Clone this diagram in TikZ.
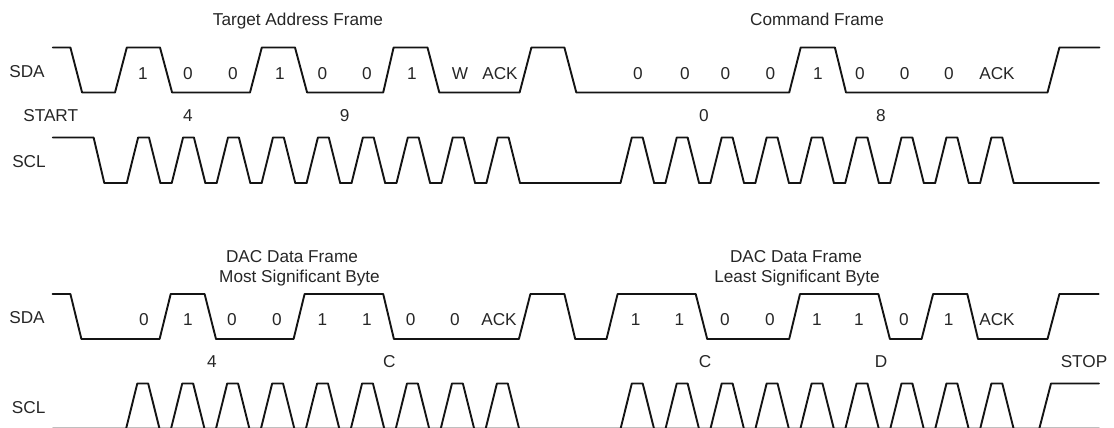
\documentclass[tikz,border=0pt]{standalone}
\usepackage{fontspec}
\setmainfont{Liberation Sans}
\newcommand{\pulsetrain}[3]{% x0, y high, y low
  \foreach \k in {0,...,8}{
    \pgfmathsetmacro{\xa}{#1+44.95*\k}
    \draw[wave] (\xa,#3) -- (\xa+11.3,#2) -- (\xa+22.2,#2) -- (\xa+33.6,#3);
    \ifnum\k<8 \draw[wave] (\xa+33.6,#3) -- (\xa+44.95,#3);\fi
  }}
\tikzset{
  wave/.style={line width=1.9pt,line join=round,line cap=round,black!92},
  txt/.style={inner sep=0pt,anchor=base,font=\fontsize{17.2}{18}\selectfont,text=black!85}
}
\begin{document}
\begin{tikzpicture}[x=1pt,y=-1pt]
\useasboundingbox (0,0) rectangle (1114,428);
\clip (0,0) rectangle (1114,428);
% ---- first row SDA
\draw[wave] (52.9,47.5) -- (70.4,47.5) -- (82.1,92.5) -- (115,92.5) -- (126.8,47.5) -- (160,47.5) -- (172.1,92.5)
  -- (250,92.5) -- (261.8,47.5) -- (295,47.5) -- (307.1,92.5) -- (383.2,92.5) -- (393.6,47.5) -- (427.5,47.5)
  -- (439.3,92.5) -- (519.6,92.5) -- (531.4,47.5) -- (564.4,47.5) -- (576.3,92.5) -- (789.2,92.5) -- (800.7,47.5)
  -- (834.9,47.5) -- (846,92.5) -- (1047.5,92.5) -- (1059.4,47.5) -- (1099.3,47.5);
% ---- first row SCL
\draw[wave] (52.9,137.5) -- (93.6,137.5) -- (104.3,183) -- (126.8,183);
\pulsetrain{126.8}{137.5}{183}
\draw[wave] (520,183) -- (620.5,183);
\pulsetrain{620.5}{137.5}{183}
\draw[wave] (1014,183) -- (1099,183);
% ---- second row SDA
\draw[wave] (52.5,294) -- (70.4,294) -- (81.4,339) -- (159.6,339) -- (170.7,294) -- (204.6,294) -- (216,339)
  -- (293.6,339) -- (304.6,294) -- (383.2,294) -- (393.9,339) -- (518.9,339) -- (530.4,294) -- (564.4,294)
  -- (575.2,339) -- (606.5,339) -- (617.6,294) -- (695.7,294) -- (707.2,339) -- (789.2,339) -- (800,294)
  -- (878.4,294) -- (889.9,339) -- (921.6,339) -- (933.1,294) -- (967.3,294) -- (978,339) -- (1047.5,339)
  -- (1059.4,294) -- (1098.6,294);
% ---- second row SCL
\draw[wave,black!25,line width=1pt] (52.9,427.5) -- (1099,427.5);
\pulsetrain{126}{383.5}{429}
\draw[wave] (1014,429) -- (1039.2,429) -- (1051,383.5) -- (1099,383.5);
\pulsetrain{620.5}{383.5}{429}
% ---- labels
\node[txt] (t1) at (298,26) {Target Address Frame};
\node[txt] (t2) at (817,26) {Command Frame};
\node[txt] (t3) at (292,262) {DAC Data Frame};
\node[txt] (t4) at (299.5,282) {Most Significant Byte};
\node[txt] (t5) at (796,262) {DAC Data Frame};
\node[txt] (t6) at (797,282) {Least Significant Byte};
\node[txt] (sda1) at (27,77.5) {SDA};
\node[txt] (scl1) at (29,167.5) {SCL};
\node[txt] (sda2) at (27,323.5) {SDA};
\node[txt] (scl2) at (28.6,413.5) {SCL};
\node[txt] (start) at (50.7,121.5) {START};
\node[txt] (stop) at (1084,367.5) {STOP};
% bits row 1
\foreach \x/\s [count=\i] in {143/1,188/0,233/0,280/1,322.5/0,367/0,412/1,460/W,500/ACK,638/0,685/0,725.5/0,770.5/0,818/1,860/0,904.7/0,949/0,997/ACK}
  \node[txt] (ba\i) at (\x,79) {\s};
% bits row 2
\foreach \x/\s [count=\i] in {144/0,188/1,232/0,277/0,322.5/1,367/1,410.7/0,455/0,499/ACK,635.6/1,679.5/1,725/0,770/0,817/1,859/1,904/0,948.6/1,997/ACK}
  \node[txt] (bb\i) at (\x,325) {\s};
% hex row 1
\foreach \x/\s [count=\i] in {188/4,344.6/9,704/0,881/8}
  \node[txt] (ha\i) at (\x,121.5) {\s};
% hex row 2
\foreach \x/\s [count=\i] in {212/4,389.3/C,705/C,881/D}
  \node[txt] (hb\i) at (\x,367.5) {\s};
\end{tikzpicture}
\end{document}
